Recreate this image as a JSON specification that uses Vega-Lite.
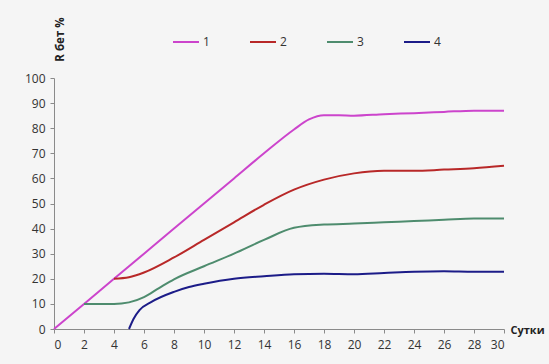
{
  "$schema": "https://vega.github.io/schema/vega-lite/v6.json",
  "width": 450,
  "height": 251,
  "autosize": {"type": "none"},
  "padding": {"left": 54, "top": 78, "right": 45, "bottom": 35},
  "background": "#f5f5f5",
  "config": {
    "view": {"stroke": null},
    "font": "Open Sans",
    "axis": {"labelFont": "Open Sans", "labelFontSize": 12, "labelColor": "#333", "domainColor": "#8a8a8a", "tickColor": "#8a8a8a", "tickSize": 4, "grid": false}
  },
  "data": {"values": [
    {"d": 0, "r": 0, "s": "1"}, {"d": 2, "r": 10, "s": "1"}, {"d": 4, "r": 20, "s": "1"}, {"d": 6, "r": 30, "s": "1"}, {"d": 8, "r": 40, "s": "1"}, {"d": 10, "r": 50, "s": "1"}, {"d": 12, "r": 60, "s": "1"}, {"d": 14, "r": 70, "s": "1"}, {"d": 16, "r": 79.5, "s": "1"}, {"d": 17, "r": 83.5, "s": "1"}, {"d": 18, "r": 85.2, "s": "1"}, {"d": 19, "r": 85.2, "s": "1"}, {"d": 20, "r": 85, "s": "1"}, {"d": 22, "r": 85.6, "s": "1"}, {"d": 24, "r": 86, "s": "1"}, {"d": 26, "r": 86.5, "s": "1"}, {"d": 28, "r": 87, "s": "1"}, {"d": 30, "r": 87, "s": "1"},
    {"d": 4, "r": 20, "s": "2"}, {"d": 5, "r": 20.6, "s": "2"}, {"d": 6, "r": 22.5, "s": "2"}, {"d": 8, "r": 28.5, "s": "2"}, {"d": 10, "r": 35.5, "s": "2"}, {"d": 12, "r": 42.5, "s": "2"}, {"d": 14, "r": 49.5, "s": "2"}, {"d": 16, "r": 55.5, "s": "2"}, {"d": 18, "r": 59.5, "s": "2"}, {"d": 20, "r": 62, "s": "2"}, {"d": 22, "r": 63, "s": "2"}, {"d": 24, "r": 63, "s": "2"}, {"d": 26, "r": 63.5, "s": "2"}, {"d": 28, "r": 64, "s": "2"}, {"d": 30, "r": 65, "s": "2"},
    {"d": 2, "r": 10, "s": "3"}, {"d": 3, "r": 10, "s": "3"}, {"d": 4, "r": 10, "s": "3"}, {"d": 5, "r": 10.6, "s": "3"}, {"d": 6, "r": 12.7, "s": "3"}, {"d": 7, "r": 16.3, "s": "3"}, {"d": 8, "r": 19.8, "s": "3"}, {"d": 10, "r": 25, "s": "3"}, {"d": 12, "r": 30, "s": "3"}, {"d": 14, "r": 35.5, "s": "3"}, {"d": 16, "r": 40.3, "s": "3"}, {"d": 18, "r": 41.6, "s": "3"}, {"d": 20, "r": 42, "s": "3"}, {"d": 22, "r": 42.5, "s": "3"}, {"d": 24, "r": 43, "s": "3"}, {"d": 26, "r": 43.5, "s": "3"}, {"d": 28, "r": 44, "s": "3"}, {"d": 30, "r": 44, "s": "3"},
    {"d": 5, "r": 0, "s": "4"}, {"d": 5.3, "r": 4, "s": "4"}, {"d": 5.7, "r": 7.5, "s": "4"}, {"d": 6.5, "r": 10.8, "s": "4"}, {"d": 8, "r": 14.8, "s": "4"}, {"d": 9, "r": 16.7, "s": "4"}, {"d": 10, "r": 18, "s": "4"}, {"d": 12, "r": 20, "s": "4"}, {"d": 14, "r": 21, "s": "4"}, {"d": 16, "r": 21.8, "s": "4"}, {"d": 18, "r": 22, "s": "4"}, {"d": 20, "r": 21.8, "s": "4"}, {"d": 22, "r": 22.3, "s": "4"}, {"d": 24, "r": 22.8, "s": "4"}, {"d": 26, "r": 23, "s": "4"}, {"d": 28, "r": 22.8, "s": "4"}, {"d": 30, "r": 22.8, "s": "4"}
  ]},
  "mark": {"type": "line", "interpolate": "monotone", "strokeWidth": 2},
  "encoding": {
    "x": {"field": "d", "type": "quantitative", "scale": {"domain": [0, 30], "nice": false},
      "axis": {"values": [0,2,4,6,8,10,12,14,16,18,20,22,24,26,28,30], "labelPadding": 6, "title": "Сутки", "titleFont": "Open Sans", "titleFontSize": 11, "titleFontWeight": "bold", "titleColor": "#222", "titleAnchor": "start", "titleAlign": "left", "titleBaseline": "middle", "titleX": 456, "titleY": 1}},
    "y": {"field": "r", "type": "quantitative", "scale": {"domain": [0, 100], "nice": false},
      "axis": {"values": [0,10,20,30,40,50,60,70,80,90,100], "labelPadding": 5, "title": "R бет %", "titleFont": "Open Sans", "titleFontSize": 11.5, "titleFontWeight": "bold", "titleColor": "#222", "titleAngle": 270, "titleAlign": "center", "titleBaseline": "middle", "titleX": 6, "titleY": -39}},
    "color": {"field": "s", "type": "nominal",
      "scale": {"domain": ["1","2","3","4"], "range": ["#cc44cc", "#b82828", "#4e8c6e", "#1c1c88"]},
      "legend": {"orient": "none", "legendX": 118, "legendY": -50, "direction": "horizontal", "columns": 4, "title": null, "symbolType": "stroke", "symbolSize": 676, "symbolStrokeWidth": 2, "labelOffset": 3, "columnPadding": 36, "labelFont": "Open Sans", "labelFontSize": 12, "labelColor": "#333"}}
  }
}
